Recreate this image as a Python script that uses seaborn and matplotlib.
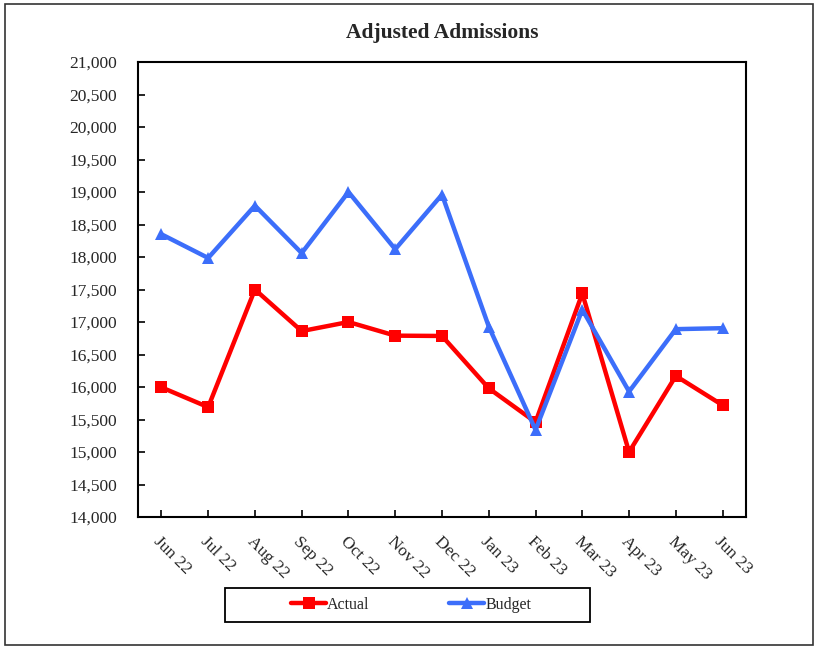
import matplotlib
matplotlib.use("Agg")
import matplotlib.pyplot as plt
from matplotlib.patches import Rectangle
from matplotlib.lines import Line2D
import seaborn as sns
import pandas as pd

months = ["Jun 22", "Jul 22", "Aug 22", "Sep 22", "Oct 22", "Nov 22", "Dec 22",
          "Jan 23", "Feb 23", "Mar 23", "Apr 23", "May 23", "Jun 23"]
actual = [15995, 15690, 17500, 16860, 17000, 16790, 16785,
          15980, 15460, 17440, 15000, 16170, 15720]
budget = [18350, 17985, 18790, 18060, 19000, 18120, 18960,
          16930, 15340, 17190, 15930, 16890, 16905]
y_ticks = list(range(14000, 21001, 500))

df = pd.DataFrame({
    "month": months * 2,
    "pos": list(range(len(months))) * 2,
    "value": actual + budget,
    "series": ["Actual"] * len(months) + ["Budget"] * len(months),
})

sns.set_theme(style="white")
plt.rcParams["font.family"] = ["Liberation Serif", "DejaVu Serif"]

W, H = 818, 649
fig = plt.figure(figsize=(W / 100, H / 100), dpi=100)
ax = fig.add_axes([138 / W, 1 - 517 / H, (746 - 138) / W, (517 - 62) / H])

palette = {"Actual": "#FF0000", "Budget": "#3C6EFA"}
markers = {"Actual": "s", "Budget": "^"}
sns.lineplot(data=df, x="pos", y="value", hue="series", style="series",
             palette=palette, markers=markers, dashes=False, linewidth=3.2,
             markersize=8.5, markeredgewidth=0, ax=ax, legend=False)

ax.set_xlim(-0.5, len(months) - 0.5)
ax.set_ylim(14000, 21000)
ax.set_yticks(y_ticks)
ax.set_yticklabels([f"{v:,}" for v in y_ticks], fontsize=12.5)
ax.set_xticks(range(len(months)))
ax.set_xticklabels(months, fontsize=12.5, rotation=-45, ha="left",
                   rotation_mode="anchor")
ax.tick_params(axis="both", direction="in", length=5, width=1.2, color="black",
               left=True, bottom=True)
ax.tick_params(axis="y", pad=15)
ax.tick_params(axis="x", pad=12)
for s in ax.spines.values():
    s.set_color("black")
    s.set_linewidth(1.5)
ax.set_xlabel("")
ax.set_ylabel("")

fig.text(442 / W, 1 - 33 / H, "Adjusted Admissions",
         ha="center", va="center", fontsize=15.5, fontweight="bold")

# legend box beneath the plot
fig.patches.append(Rectangle((225 / W, 1 - 622 / H), (590 - 225) / W, 34 / H,
                             transform=fig.transFigure, fill=False,
                             edgecolor="black", linewidth=1.3))
handles = [Line2D([], [], color=palette[k], marker=markers[k], linewidth=3.2,
                  markersize=8, markeredgewidth=0) for k in ["Actual", "Budget"]]
fig.legend(handles, ["Actual", "Budget"], ncol=2, loc="center",
           bbox_to_anchor=(411 / W, 1 - 605 / H), fontsize=11.5, frameon=False,
           handlelength=2.2, handletextpad=0.05, columnspacing=5.0)

# outer frame
fig.patches.append(Rectangle((5 / W, 4 / H), 808 / W, 641 / H,
                             transform=fig.transFigure, fill=False,
                             edgecolor="#333333", linewidth=1.2))

fig.savefig("out.png", dpi=100)
